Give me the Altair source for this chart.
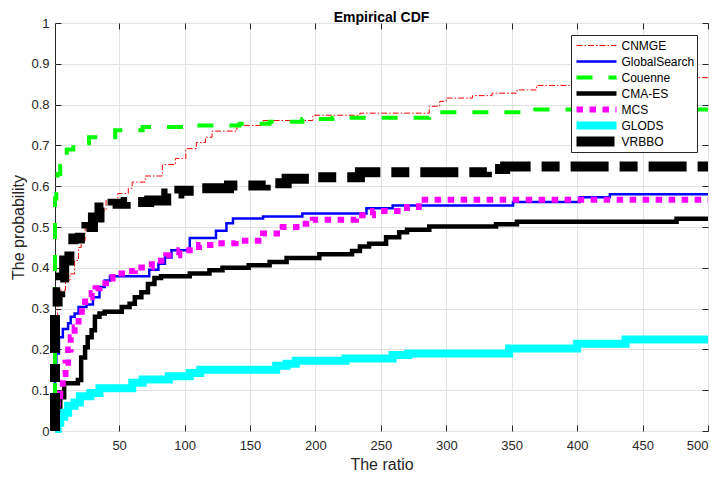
import altair as alt
import pandas as pd

methods = ["CNMGE", "GlobalSearch", "Couenne", "CMA-ES", "MCS", "GLODS", "VRBBO"]
colors = ["#ff0000", "#0000ff", "#00ff00", "#000000", "#ff00ff", "#00ffff", "#000000"]
widths = [1, 2.5, 4, 4.5, 6, 8, 10]
dashes = [[6, 2, 1.5, 2], [1, 0], [16, 16], [1, 0], [6.5, 6.5], [1, 0], [38, 11, 18, 11]]

cnmge_x = [1, 1, 2, 3, 5, 9, 12.5, 16, 19, 21, 24, 30, 35, 40, 49, 57, 60, 70, 83, 93, 101, 109, 116, 121, 140, 160, 198, 234, 287, 295, 300, 320, 335, 354, 369, 400, 430, 500]
cnmge_y = [0, 0.22, 0.27, 0.31, 0.345, 0.37, 0.385, 0.418, 0.45, 0.467, 0.5, 0.52, 0.54, 0.565, 0.582, 0.595, 0.61, 0.625, 0.653, 0.668, 0.692, 0.707, 0.72, 0.735, 0.749, 0.761, 0.774, 0.779, 0.796, 0.808, 0.816, 0.822, 0.828, 0.836, 0.847, 0.853, 0.866, 0.866]

gs_x = [1, 1, 2, 4, 7, 11, 13, 16, 19, 25, 30, 35, 39, 43, 73, 80, 85, 90, 104, 124, 132, 137, 160, 190, 239, 259, 351, 402, 425, 500]
gs_y = [0, 0.16, 0.19, 0.23, 0.25, 0.264, 0.28, 0.288, 0.304, 0.31, 0.328, 0.353, 0.369, 0.379, 0.395, 0.41, 0.425, 0.443, 0.473, 0.491, 0.509, 0.521, 0.526, 0.533, 0.546, 0.553, 0.561, 0.573, 0.58, 0.58]

cou_x = [1, 1, 2, 3, 5, 7, 10, 15, 27, 47, 68, 100, 142, 165, 190, 213, 287, 295, 368, 500]
cou_y = [0, 0.57, 0.6, 0.63, 0.65, 0.66, 0.69, 0.705, 0.72, 0.737, 0.745, 0.749, 0.753, 0.758, 0.765, 0.768, 0.775, 0.781, 0.788, 0.788]

cma_x = [1, 1, 3, 5, 8, 18.5, 21, 24, 26, 29, 31.5, 35, 39, 52, 58, 62, 67, 72, 77, 82, 104, 119, 129, 149, 165, 178, 203, 228, 234, 241, 254, 264, 270, 287, 338, 354, 476, 500]
cma_y = [0, 0.02, 0.044, 0.083, 0.117, 0.125, 0.18, 0.205, 0.23, 0.247, 0.28, 0.288, 0.292, 0.304, 0.312, 0.328, 0.34, 0.36, 0.375, 0.379, 0.386, 0.394, 0.4, 0.406, 0.414, 0.424, 0.433, 0.441, 0.452, 0.459, 0.475, 0.487, 0.493, 0.501, 0.507, 0.513, 0.52, 0.52]

mcs_x = [1, 1, 3, 5, 7, 9, 11, 13, 16, 19, 21.5, 24, 29, 32, 35, 40, 45, 55, 62, 75, 86, 96, 111, 124, 139, 160, 175, 188, 198, 231, 244, 270, 279, 500]
mcs_y = [0, 0.05, 0.085, 0.1, 0.14, 0.167, 0.2, 0.23, 0.254, 0.28, 0.303, 0.328, 0.338, 0.35, 0.362, 0.374, 0.386, 0.392, 0.401, 0.417, 0.431, 0.443, 0.456, 0.46, 0.466, 0.484, 0.5, 0.508, 0.518, 0.529, 0.539, 0.549, 0.567, 0.567]

glods_x = [1, 1, 3, 5, 8, 11, 16, 20, 28, 35, 60, 68, 88, 104, 112, 170, 178, 185, 223, 259, 271, 348, 400, 437, 500]
glods_y = [0, 0.005, 0.02, 0.035, 0.045, 0.062, 0.07, 0.085, 0.093, 0.105, 0.118, 0.126, 0.134, 0.142, 0.15, 0.16, 0.165, 0.172, 0.178, 0.186, 0.19, 0.202, 0.214, 0.224, 0.224]

vr_x = [1, 1, 3, 5, 8, 12, 15, 20, 25, 30, 35, 45, 55, 73, 86, 96, 109, 134, 162, 178, 195, 234, 331, 345, 500]
vr_y = [0, 0.30, 0.34, 0.376, 0.418, 0.45, 0.472, 0.49, 0.5, 0.523, 0.548, 0.557, 0.561, 0.565, 0.582, 0.589, 0.595, 0.602, 0.607, 0.618, 0.622, 0.634, 0.642, 0.648, 0.648]

series = [(methods[0], cnmge_x, cnmge_y), (methods[1], gs_x, gs_y), (methods[2], cou_x, cou_y),
          (methods[3], cma_x, cma_y), (methods[4], mcs_x, mcs_y), (methods[5], glods_x, glods_y),
          (methods[6], vr_x, vr_y)]

rows = []
for m, xs, ys in series:
    for i, (xv, yv) in enumerate(zip(xs, ys)):
        rows.append({"method": m, "ratio": xv, "prob": yv, "o": i})
df = pd.DataFrame(rows)

W, H = 653, 408
xticks = list(range(50, 501, 50))
yticks = [round(i * 0.1, 1) for i in range(11)]
xsc = alt.Scale(domain=[1, 500], nice=False, zero=False)
ysc = alt.Scale(domain=[0, 1], nice=False, zero=False)
AX = "#262626"
FONT = "Liberation Sans"

leg = alt.Legend(
    title=None, orient="none", legendX=516, legendY=12, symbolType="stroke",
    symbolSize=1600, clipHeight=16, rowPadding=0, padding=2.5,
    strokeColor=AX, fillColor="white", labelFont=FONT, labelFontSize=12,
    labelColor="black", symbolOffset=-2, labelOffset=0, cornerRadius=0,
)

lines = alt.Chart(df).mark_line(interpolate="step-after").encode(
    x=alt.X("ratio:Q", scale=xsc, axis=alt.Axis(
        orient="bottom", values=xticks, title="The ratio", grid=True, ticks=False,
        domain=False, labelPadding=8, titlePadding=4, labelFontSize=13,
        titleFontSize=16, titleFontWeight="normal", labelFont=FONT, titleFont=FONT,
        labelColor=AX, titleColor=AX, gridColor="#e2e2e2", gridWidth=1)),
    y=alt.Y("prob:Q", scale=ysc, axis=alt.Axis(
        orient="left", values=yticks, title="The probability", grid=True, ticks=False,
        domain=False, labelPadding=6, titlePadding=4, labelFontSize=13, format="~g",
        titleFontSize=16, titleFontWeight="normal", labelFont=FONT, titleFont=FONT,
        labelColor=AX, titleColor=AX, gridColor="#e2e2e2", gridWidth=1)),
    color=alt.Color("method:N", scale=alt.Scale(domain=methods, range=colors), legend=leg),
    strokeDash=alt.StrokeDash("method:N", scale=alt.Scale(type="ordinal", domain=methods, range=dashes), legend=leg),
    strokeWidth=alt.StrokeWidth("method:N", scale=alt.Scale(type="ordinal", domain=methods, range=widths), legend=leg),
    order=alt.Order("o:Q"),
)

tickA = alt.Chart(df).mark_point(opacity=0).encode(
    x=alt.X("ratio:Q", scale=xsc, axis=alt.Axis(
        orient="top", offset=-H, values=xticks, labels=False, ticks=True, tickSize=6,
        domain=False, grid=False, title=None, tickColor=AX)),
    y=alt.Y("prob:Q", scale=ysc, axis=alt.Axis(
        orient="right", offset=-W, values=yticks, labels=False, ticks=True, tickSize=6,
        domain=False, grid=False, title=None, tickColor=AX)),
)

tickB = alt.Chart(df).mark_point(opacity=0).encode(
    x=alt.X("ratio:Q", scale=xsc, axis=alt.Axis(
        orient="bottom", offset=-H, values=xticks, labels=False, ticks=True, tickSize=6,
        domain=False, grid=False, title=None, tickColor=AX)),
    y=alt.Y("prob:Q", scale=ysc, axis=alt.Axis(
        orient="left", offset=-W, values=yticks, labels=False, ticks=True, tickSize=6,
        domain=False, grid=False, title=None, tickColor=AX)),
)

chart = alt.layer(lines, tickA, tickB).resolve_axis(
    x="independent", y="independent"
).properties(
    width=W, height=H,
    title=alt.TitleParams("Empirical CDF", font=FONT, fontSize=14, fontWeight="bold",
                          color="black", anchor="middle", offset=4, dy=12),
    autosize=alt.AutoSizeParams(type="none"),
    padding={"left": 47, "top": 15, "right": 3, "bottom": 40},
).configure_view(stroke=AX, strokeWidth=1)

chart.save("out.html", embed_options={"renderer": "svg", "actions": False})
